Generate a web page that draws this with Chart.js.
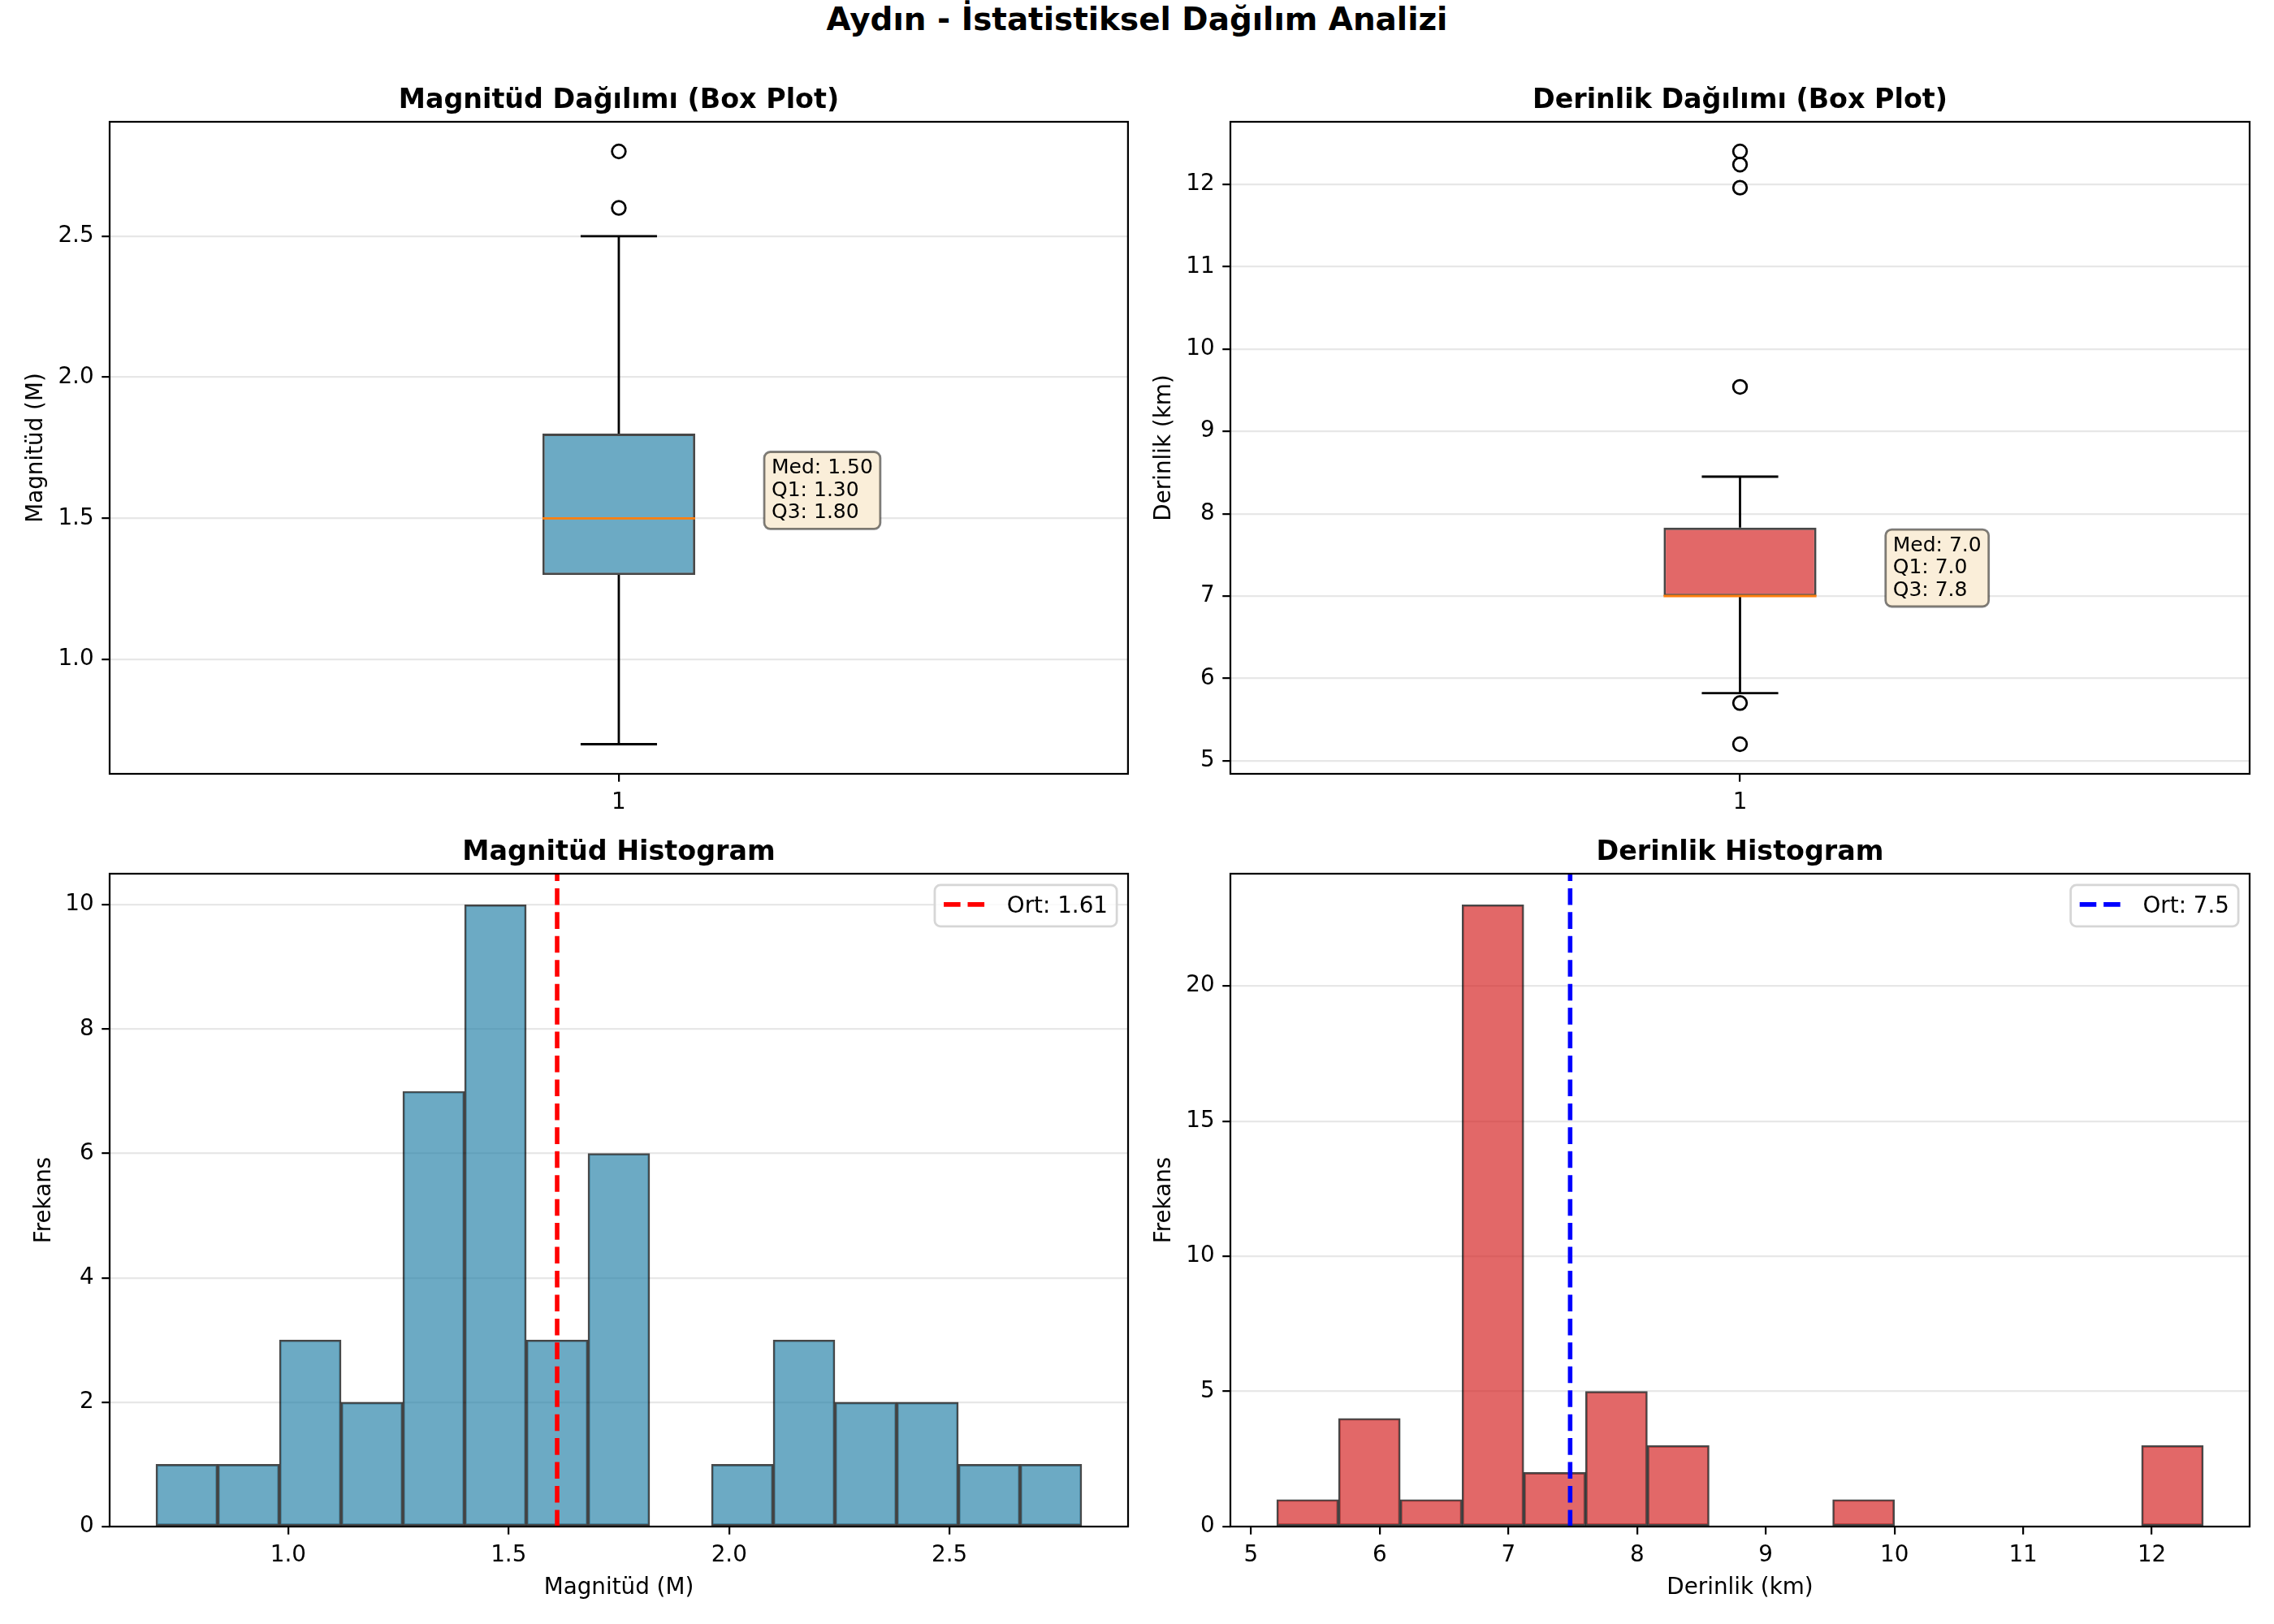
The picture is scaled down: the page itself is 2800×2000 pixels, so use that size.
<!DOCTYPE html>
<html>
<head>
<meta charset="utf-8">
<title>Aydın - İstatistiksel Dağılım Analizi</title>
<script src="https://cdn.jsdelivr.net/npm/chart.js@4.4.1/dist/chart.umd.min.js"></script>
<style>
  body { margin: 0; background: #fff; }
  #page { position: relative; width: 2800px; height: 2000px; background: #fff; }
  #page canvas { position: absolute; }
  #suptitle {
    position: absolute; left: 0; top: 4px; width: 2800px; text-align: center;
    font-family: "DejaVu Sans", sans-serif; font-weight: bold; font-size: 38.9px; line-height: 39px;
  }
</style>
</head>
<body>
<div id="page">
  <div id="suptitle">Aydın - İstatistiksel Dağılım Analizi</div>
  <canvas id="magBoxChart" width="1400" height="1000" style="left:0;top:0"></canvas>
  <canvas id="depthBoxChart" width="1400" height="1000" style="left:1400px;top:0"></canvas>
  <canvas id="magHistChart" width="1400" height="1000" style="left:0;top:1000px"></canvas>
  <canvas id="depthHistChart" width="1400" height="1000" style="left:1400px;top:1000px"></canvas>
</div>
<script>

// ======================================
// DATA
// ======================================

// box plots: [lower whisker, Q1, median, Q3, upper whisker]
const magBox = [0.7, 1.3, 1.5, 1.8, 2.5];
const magOutliers = [2.6, 2.8];
const magBoxLabels = ["Med: 1.50", "Q1: 1.30", "Q3: 1.80"];
const magBoxTicks = [1.0, 1.5, 2.0, 2.5];

const depthBox = [5.82, 7.0, 7.0, 7.83, 8.45];
const depthOutliers = [5.2, 5.7, 9.54, 11.96, 12.24, 12.4];
const depthBoxLabels = ["Med: 7.0", "Q1: 7.0", "Q3: 7.8"];
const depthBoxTicks = [5, 6, 7, 8, 9, 10, 11, 12];

// histograms
const magBins = [0.70, 0.84, 0.98, 1.12, 1.26, 1.40, 1.54, 1.68, 1.82, 1.96, 2.10, 2.24, 2.38, 2.52, 2.66, 2.80];
const magCounts = [1, 1, 3, 2, 7, 10, 3, 6, 0, 1, 3, 2, 2, 1, 1];
const magMean = 1.61;
const magMeanLabel = "Ort: 1.61";
const magHistXTicks = [1.0, 1.5, 2.0, 2.5];
const magHistYTicks = [0, 2, 4, 6, 8, 10];

const depthBins = [5.20, 5.68, 6.16, 6.64, 7.12, 7.60, 8.08, 8.56, 9.04, 9.52, 10.00, 10.48, 10.96, 11.44, 11.92, 12.40];
const depthCounts = [1, 4, 1, 23, 2, 5, 3, 0, 0, 1, 0, 0, 0, 0, 3];
const depthMean = 7.48;
const depthMeanLabel = "Ort: 7.5";
const depthHistXTicks = [5, 6, 7, 8, 9, 10, 11, 12];
const depthHistYTicks = [0, 5, 10, 15, 20];


// ======================================
// STYLE
// ======================================

const PT = 200 / 72;                 // points -> pixels
const FONT = '"DejaVu Sans", sans-serif';
const MAG_FILL = "rgba(46,134,171,0.7)";
const DEPTH_FILL = "rgba(214,40,40,0.7)";
const EDGE = "rgba(0,0,0,0.72)";
const BOX_WIDTH = 0.15;

Chart.defaults.font.family = FONT;
Chart.defaults.font.size = 10 * PT;
Chart.defaults.color = "#000";


// ======================================
// HELPERS
// ======================================

function paddedRange(lo, hi){
    let m = (hi - lo) * 0.05;
    return [lo - m, hi + m];
}

function roundedRect(ctx, x, y, w, h, r){
    ctx.beginPath();
    ctx.moveTo(x + r, y);
    ctx.lineTo(x + w - r, y);
    ctx.arcTo(x + w, y, x + w, y + r, r);
    ctx.lineTo(x + w, y + h - r);
    ctx.arcTo(x + w, y + h, x + w - r, y + h, r);
    ctx.lineTo(x + r, y + h);
    ctx.arcTo(x, y + h, x, y + h - r, r);
    ctx.lineTo(x, y + r);
    ctx.arcTo(x, y, x + r, y, r);
    ctx.closePath();
}

function tickAxis(values, decimals, gridOnArea){
    return {
        type: "linear",
        offset: false,
        afterBuildTicks: function(scale){
            scale.ticks = values.map(function(v){ return {value: v}; });
        },
        ticks: {
            autoSkip: false,
            maxRotation: 0,
            padding: 3.5 * PT,
            color: "#000",
            callback: function(v){ return Number(v).toFixed(decimals); }
        },
        grid: {
            offset: false,
            drawOnChartArea: gridOnArea,
            color: "rgba(176,176,176,0.3)",
            lineWidth: 0.8 * PT,
            tickColor: "#000",
            tickWidth: 0.8 * PT,
            tickLength: 3.5 * PT
        },
        border: { display: false }
    };
}

// spines on all four sides
const framePlugin = {
    id: "frame",
    afterDraw: function(chart){
        let a = chart.chartArea;
        let ctx = chart.ctx;
        ctx.save();
        ctx.strokeStyle = "#000";
        ctx.lineWidth = 0.8 * PT;
        ctx.strokeRect(a.left, a.top, a.right - a.left, a.bottom - a.top);
        ctx.restore();
    }
};

function panelTitle(text){
    return {
        id: "panelTitle",
        afterDraw: function(chart){
            let a = chart.chartArea;
            let ctx = chart.ctx;
            ctx.save();
            ctx.font = "bold " + (12 * PT) + "px " + FONT;
            ctx.fillStyle = "#000";
            ctx.textAlign = "center";
            ctx.textBaseline = "alphabetic";
            ctx.fillText(text, (a.left + a.right) / 2, a.top - 6 * PT);
            ctx.restore();
        }
    };
}

// wheat text box next to the box plot, last line sits on the median
function statBox(xValue, yValue, lines){
    return {
        id: "statBox",
        afterDatasetsDraw: function(chart){
            let ctx = chart.ctx;
            let fs = 9 * PT;
            let lh = 27.7;
            let x = chart.scales.x.getPixelForValue(xValue);
            let yLast = chart.scales.y.getPixelForValue(yValue);
            let yFirst = yLast - (lines.length - 1) * lh;
            ctx.save();
            ctx.font = fs + "px " + FONT;
            let w = 0;
            lines.forEach(function(t){ w = Math.max(w, ctx.measureText(t).width); });
            roundedRect(ctx, x - 9, yFirst - 26.5, w + 18, (yLast + 13) - (yFirst - 26.5), 7.5);
            ctx.fillStyle = "rgb(250,238,217)";
            ctx.fill();
            ctx.strokeStyle = "rgba(0,0,0,0.5)";
            ctx.lineWidth = PT;
            ctx.stroke();
            ctx.fillStyle = "#000";
            ctx.textAlign = "left";
            ctx.textBaseline = "alphabetic";
            lines.forEach(function(t, i){ ctx.fillText(t, x, yFirst + i * lh); });
            ctx.restore();
        }
    };
}

// legend box in the upper right corner of the plot
function meanLegend(label, color){
    return {
        id: "meanLegend",
        afterDatasetsDraw: function(chart){
            let a = chart.chartArea;
            let ctx = chart.ctx;
            let fs = 10 * PT;
            ctx.save();
            ctx.font = fs + "px " + FONT;
            let tw = ctx.measureText(label).width;
            let pad = 0.4 * fs, hl = 2 * fs, hp = 0.8 * fs;
            let w = pad + hl + hp + tw + pad;
            let h = 51;
            let left = a.right - 0.5 * fs - w;
            let top = a.top + 0.5 * fs;
            roundedRect(ctx, left, top, w, h, 7);
            ctx.fillStyle = "rgba(255,255,255,0.8)";
            ctx.fill();
            ctx.strokeStyle = "rgb(214,214,214)";
            ctx.lineWidth = PT;
            ctx.stroke();
            ctx.beginPath();
            ctx.setLineDash([3.7 * 2 * PT, 1.6 * 2 * PT]);
            ctx.strokeStyle = color;
            ctx.lineWidth = 2 * PT;
            ctx.moveTo(left + pad, top + 24);
            ctx.lineTo(left + pad + hl, top + 24);
            ctx.stroke();
            ctx.setLineDash([]);
            ctx.fillStyle = "#000";
            ctx.textAlign = "left";
            ctx.textBaseline = "alphabetic";
            ctx.fillText(label, left + pad + hl + hp, top + 34);
            ctx.restore();
        }
    };
}

function baseOptions(layout, xAxis, yAxis){
    xAxis.afterFit = function(s){ s.height = layout.xHeight; };
    yAxis.afterFit = function(s){ s.width = layout.yWidth; };
    return {
        responsive: false,
        animation: false,
        devicePixelRatio: 1,
        events: [],
        layout: { padding: { top: layout.padTop, right: layout.padRight, bottom: 0, left: 0 } },
        plugins: { legend: { display: false }, tooltip: { enabled: false } },
        scales: { x: xAxis, y: yAxis }
    };
}


// ======================================
// BOX PLOTS
// ======================================

function boxDatasets(stats, outliers, fill){
    let c = 1;
    let half = BOX_WIDTH / 2;
    let capHalf = BOX_WIDTH / 4;
    return [
        {
            type: "bar",
            data: [{x: c, y: [stats[1], stats[3]]}],
            backgroundColor: fill,
            borderColor: EDGE,
            borderWidth: PT,
            borderSkipped: false,
            barPercentage: BOX_WIDTH,
            categoryPercentage: 1,
            order: 4
        },
        {
            type: "line",
            data: [
                {x: c, y: stats[1]}, {x: c, y: stats[0]}, {x: c, y: null},
                {x: c - capHalf, y: stats[0]}, {x: c + capHalf, y: stats[0]}, {x: c, y: null},
                {x: c, y: stats[3]}, {x: c, y: stats[4]}, {x: c, y: null},
                {x: c - capHalf, y: stats[4]}, {x: c + capHalf, y: stats[4]}
            ],
            borderColor: "#000",
            borderWidth: PT,
            pointRadius: 0,
            spanGaps: false,
            order: 3
        },
        {
            type: "line",
            data: [{x: c - half, y: stats[2]}, {x: c + half, y: stats[2]}],
            borderColor: "#ff7f0e",
            borderWidth: PT,
            pointRadius: 0,
            order: 2
        },
        {
            type: "scatter",
            data: outliers.map(function(v){ return {x: c, y: v}; }),
            pointRadius: 3 * PT,
            pointBorderWidth: PT,
            pointBorderColor: "#000",
            pointBackgroundColor: "rgba(0,0,0,0)",
            order: 1
        }
    ];
}

function boxChart(id, stats, outliers, fill, yTicks, decimals, labels, yTitle, layout, title){
    let range = paddedRange(Math.min.apply(null, [stats[0]].concat(outliers)),
                            Math.max.apply(null, [stats[4]].concat(outliers)));
    let xAxis = tickAxis([1], 0, false);
    xAxis.min = 0.5;
    xAxis.max = 1.5;
    let yAxis = tickAxis(yTicks, decimals, true);
    yAxis.min = range[0];
    yAxis.max = range[1];
    yAxis.title = { display: true, text: yTitle, padding: { top: layout.yTitlePad } };
    new Chart(document.getElementById(id), {
        type: "scatter",
        data: { datasets: boxDatasets(stats, outliers, fill) },
        options: baseOptions(layout, xAxis, yAxis),
        plugins: [framePlugin, panelTitle(title), statBox(1.15, stats[2], labels)]
    });
}

boxChart("magBoxChart", magBox, magOutliers, MAG_FILL, magBoxTicks, 1, magBoxLabels,
    "Magnitüd (M)", {padTop: 150, padRight: 11, yWidth: 135, xHeight: 47, yTitlePad: 28},
    "Magnitüd Dağılımı (Box Plot)");

boxChart("depthBoxChart", depthBox, depthOutliers, DEPTH_FILL, depthBoxTicks, 0, depthBoxLabels,
    "Derinlik (km)", {padTop: 150, padRight: 30, yWidth: 115, xHeight: 47, yTitlePad: 17},
    "Derinlik Dağılımı (Box Plot)");


// ======================================
// HISTOGRAMS
// ======================================

function histChart(id, bins, counts, fill, mean, meanColor, meanLabel, xTicks, xDec, yTicks, xTitle, layout, title){
    let centers = counts.map(function(c, i){ return (bins[i] + bins[i + 1]) / 2; });
    let xRange = paddedRange(bins[0], bins[bins.length - 1]);
    let yTop = Math.max.apply(null, counts) * 1.05;

    let xAxis = tickAxis(xTicks, xDec, false);
    xAxis.min = xRange[0];
    xAxis.max = xRange[1];
    xAxis.title = { display: true, text: xTitle, padding: { bottom: layout.xTitlePad } };
    let yAxis = tickAxis(yTicks, 0, true);
    yAxis.min = 0;
    yAxis.max = yTop;
    yAxis.title = { display: true, text: "Frekans", padding: { top: layout.yTitlePad } };

    new Chart(document.getElementById(id), {
        type: "bar",
        data: {
            datasets: [
                {
                    type: "bar",
                    data: counts.map(function(c, i){ return {x: centers[i], y: c}; }),
                    backgroundColor: fill,
                    borderColor: EDGE,
                    borderWidth: 2.2,
                    borderSkipped: false,
                    barPercentage: 1,
                    categoryPercentage: 1,
                    order: 2
                },
                {
                    type: "line",
                    data: [{x: mean, y: 0}, {x: mean, y: yTop}],
                    borderColor: meanColor,
                    borderWidth: 2 * PT,
                    borderDash: [3.7 * 2 * PT, 1.6 * 2 * PT],
                    pointRadius: 0,
                    order: 1
                }
            ]
        },
        options: baseOptions(layout, xAxis, yAxis),
        plugins: [framePlugin, panelTitle(title), meanLegend(meanLabel, meanColor)]
    });
}

histChart("magHistChart", magBins, magCounts, MAG_FILL, magMean, "#ff0000", magMeanLabel,
    magHistXTicks, 1, magHistYTicks, "Magnitüd (M)",
    {padTop: 76, padRight: 11, yWidth: 135, xHeight: 120, yTitlePad: 38, xTitlePad: 28},
    "Magnitüd Histogram");

histChart("depthHistChart", depthBins, depthCounts, DEPTH_FILL, depthMean, "#0000ff", depthMeanLabel,
    depthHistXTicks, 0, depthHistYTicks, "Derinlik (km)",
    {padTop: 76, padRight: 30, yWidth: 115, xHeight: 120, yTitlePad: 17, xTitlePad: 28},
    "Derinlik Histogram");

</script>
</body>
</html>
